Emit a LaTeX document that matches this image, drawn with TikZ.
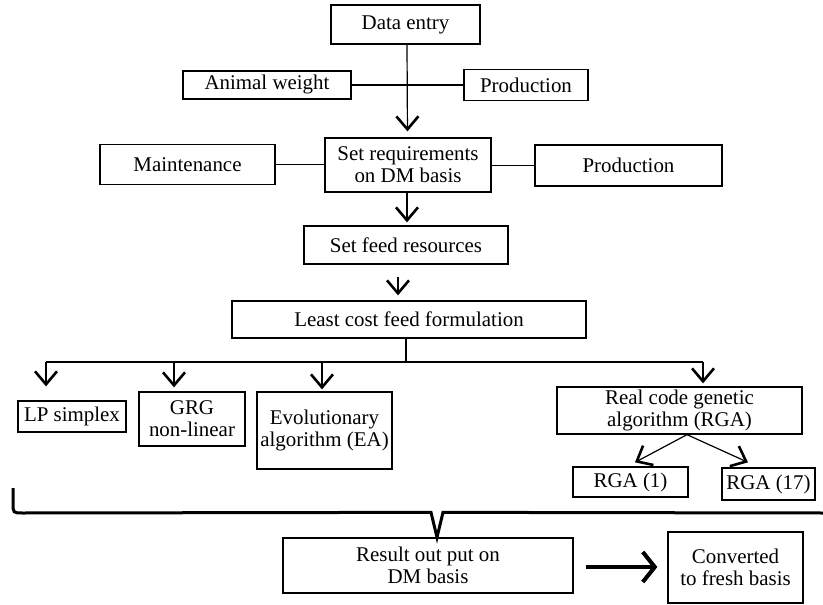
\documentclass[tikz,border=0pt]{standalone}
\usepackage{fontspec}
\setmainfont{Liberation Serif}
\usetikzlibrary{arrows.meta,calc}
\begin{document}
\begin{tikzpicture}[x=1bp,y=-1bp,
  box/.style={draw, line width=1.3bp, rectangle, inner sep=0pt, align=center, font=\fontsize{21}{22}\selectfont},
  ln/.style={line width=1.2bp},
  arr/.style={line width=1.2bp, -{Straight Barb[length=13bp,width=22bp,line width=2.6bp]}},
  bigarr/.style={line width=4bp, -{Straight Barb[length=12bp,width=30bp,line width=4bp]}},
  bracestyle/.style={line width=3bp, line join=miter}
]
\useasboundingbox (0,0) rectangle (823,605);

% nodes
\node[box, minimum width=149bp, minimum height=39bp] (data) at (405.5,24.5) {Data entry};
\node[box, minimum width=168bp, minimum height=28bp] (animal) at (267,85) {Animal weight};
\node[box, minimum width=124bp, minimum height=31bp] (prodA) at (526,85) {Production};
\node[box, minimum width=166bp, minimum height=54bp] (setreq) at (408,165) {Set requirements\\on DM basis};
\node[box, minimum width=175bp, minimum height=40bp] (maint) at (187.5,164.5) {Maintenance};
\node[box, minimum width=187bp, minimum height=41bp] (prodB) at (628.5,165.5) {Production};
\node[box, minimum width=204bp, minimum height=38bp] (feed) at (406,245) {Set feed resources};
\node[box, minimum width=354bp, minimum height=37bp] (least) at (409,319.5) {Least cost feed formulation};
\node[box, minimum width=108bp, minimum height=31bp] (lp) at (72,416.5) {LP simplex};
\node[box, minimum width=106bp, minimum height=54bp] (grg) at (192,419) {GRG\\non-linear};
\node[box, minimum width=135bp, minimum height=77bp] (ea) at (324.5,430.5) {Evolutionary\\algorithm (EA)};
\node[box, minimum width=245bp, minimum height=47bp] (rga) at (679.5,410.5) {Real code genetic\\algorithm (RGA)};
\node[box, minimum width=115bp, minimum height=30bp] (rgaA) at (630.5,482) {RGA (1)};
\node[box, minimum width=93bp, minimum height=32bp] (rgaB) at (768.5,484) {RGA (17)};
\node[box, minimum width=290bp, minimum height=55bp] (result) at (428,565.5) {Result out put on\\DM basis};
\node[box, minimum width=135bp, minimum height=71bp] (conv) at (735.5,567.5) {Converted\\to fresh basis};

% connectors top
\draw[ln] (animal.east) -- (prodA.west);
\draw[arr, shorten >=6bp] ([xshift=1.5bp]data.south) -- ([xshift=-0.5bp]setreq.north);
\draw[ln] (maint.east) -- (maint.east -| setreq.west);
\draw[ln] (setreq.east |- prodB.west) -- (prodB.west);
\draw[arr, shorten >=3bp] ([xshift=-1bp]setreq.south) -- ([xshift=1bp]feed.north);
\coordinate (fa) at ([xshift=-8bp]feed.south);
\draw[arr, shorten <=12bp, shorten >=5bp] (fa) -- (fa |- least.north);

% bus
\coordinate (ls) at ([xshift=-3bp]least.south);
\coordinate (bus) at ($(ls)+(0,24)$);
\coordinate (b1) at (46,362);
\coordinate (b2) at (174,362);
\coordinate (b3) at (322,362);
\coordinate (b4) at (703,362);
\draw[ln] (ls) -- (bus);
\draw[ln] (b1) -- (b4);
\draw[arr, shorten >=14bp] (b1) -- (b1 |- lp.north);
\draw[arr, shorten >=4bp] (b2) -- (b2 |- grg.north);
\draw[arr, shorten >=2bp] (b3) -- (b3 |- ea.north);
\draw[arr, shorten >=3bp] (b4) -- (b4 |- rga.north);

% RGA split
\coordinate (apex) at ([xshift=7.5bp]rga.south);
\draw[arr] (apex) -- ($(rgaA.north)+(4.5,-4)$);
\draw[arr] (apex) -- ($(rgaB.north)+(-20.5,-5)$);

% brace
\coordinate (notch) at ([xshift=9bp]result.north);
\draw[bracestyle] (13,488) -- (13,503) .. controls (13,513) .. (23,513) -- ($(notch)+(-6,-25)$) -- (notch) -- ($(notch)+(6,-25)$) -- (823,513);

% result arrow
\draw[bigarr, shorten <=12bp, shorten >=10bp] ([yshift=-1.5bp]result.east) -- ([yshift=-1.5bp]result.east -| conv.west);
\end{tikzpicture}
\end{document}
